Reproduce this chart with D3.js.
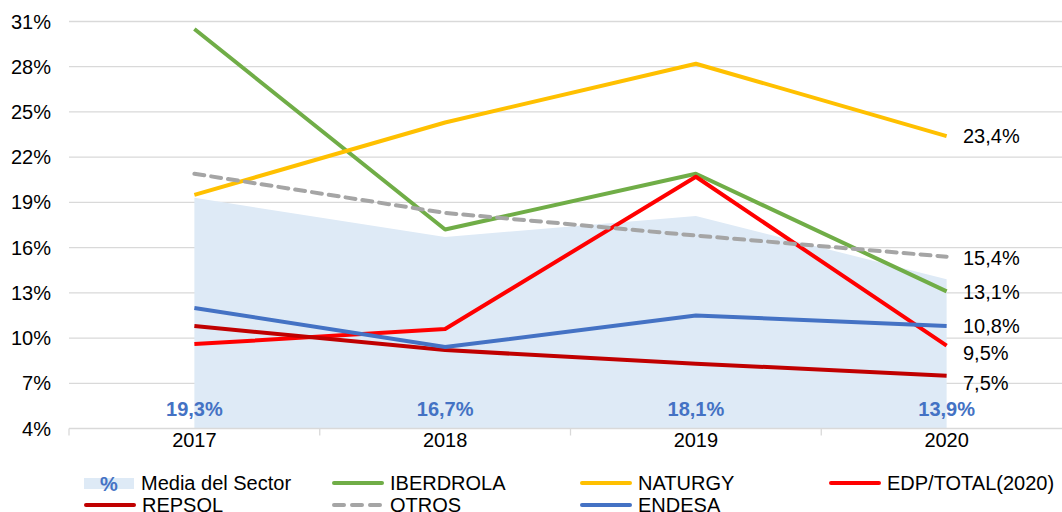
<!DOCTYPE html>
<html>
<head>
<meta charset="utf-8">
<script src="https://cdn.jsdelivr.net/npm/d3@7"></script>
<style>
  body { margin: 0; background: #fff; }
  svg { display: block; font-family: "Liberation Sans", Arial, sans-serif; }
</style>
</head>
<body>
<svg id="chart" width="1062" height="512"></svg>
<script>
var years = ["2017", "2018", "2019", "2020"];
var yTicks = [4, 7, 10, 13, 16, 19, 22, 25, 28, 31];

var media = [19.3, 16.7, 18.1, 13.9];
var iberdrola = [30.5, 17.2, 20.9, 13.1];
var naturgy = [19.5, 24.3, 28.2, 23.4];
var edp = [9.6, 10.6, 20.7, 9.5];
var repsol = [10.8, 9.2, 8.3, 7.5];
var otros = [20.9, 18.3, 16.8, 15.4];
var endesa = [12.0, 9.4, 11.5, 10.8];

var series = [
  { name: "IBERDROLA", values: iberdrola, color: "#70AD47" },
  { name: "NATURGY", values: naturgy, color: "#FFC000" },
  { name: "EDP/TOTAL(2020)", values: edp, color: "#FF0000" },
  { name: "REPSOL", values: repsol, color: "#C00000" },
  { name: "OTROS", values: otros, color: "#A5A5A5", dash: "10,7" },
  { name: "ENDESA", values: endesa, color: "#4472C4" }
];

var svg = d3.select("#chart");
var margin = { top: 21.5, left: 69, right: 1072, bottom: 428.5 };
var fs = 20;

var x = d3.scaleBand().domain(years).range([margin.left, margin.right]).padding(0);
var cx = d => x(d) + x.bandwidth() / 2;
var y = d3.scaleLinear().domain([4, 31]).range([margin.bottom, margin.top]);

var fmt = v => d3.format(".1f")(v).replace(".", ",") + "%";

// gridlines
svg.append("g").selectAll("line")
    .data(yTicks.slice(1)).enter().append("line")
    .attr("x1", margin.left).attr("x2", margin.right)
    .attr("y1", d => y(d)).attr("y2", d => y(d))
    .attr("stroke", "#D9D9D9").attr("stroke-width", 1.3);

// y axis labels
svg.append("g").selectAll("text")
    .data(yTicks).enter().append("text")
    .attr("x", 51).attr("y", d => y(d)).attr("dy", "0.35em")
    .attr("text-anchor", "end").attr("font-size", fs).attr("fill", "#000")
    .text(d => d + "%");

// area: media del sector
var area = d3.area().x((d, i) => cx(years[i])).y0(y(4)).y1(d => y(d));
svg.append("path").attr("d", area(media)).attr("fill", "#DEEAF6");

// x axis line + ticks
svg.append("line")
    .attr("x1", margin.left).attr("x2", margin.right)
    .attr("y1", y(4)).attr("y2", y(4))
    .attr("stroke", "#D9D9D9").attr("stroke-width", 1.3);
svg.append("g").selectAll("line")
    .data(years.concat(["end"])).enter().append("line")
    .attr("x1", (d, i) => i < years.length ? x(d) : margin.right)
    .attr("x2", (d, i) => i < years.length ? x(d) : margin.right)
    .attr("y1", y(4)).attr("y2", y(4) + 7)
    .attr("stroke", "#D9D9D9").attr("stroke-width", 1.3);
svg.append("g").selectAll("text")
    .data(years).enter().append("text")
    .attr("x", d => cx(d)).attr("y", 440).attr("dy", "0.35em")
    .attr("text-anchor", "middle").attr("font-size", fs).attr("fill", "#000")
    .text(d => d);

// media labels
svg.append("g").selectAll("text")
    .data(media).enter().append("text")
    .attr("x", (d, i) => cx(years[i])).attr("y", 409).attr("dy", "0.35em")
    .attr("text-anchor", "middle").attr("font-size", fs).attr("font-weight", "bold")
    .attr("fill", "#4472C4")
    .text(d => fmt(d));

// lines
var line = d3.line().x((d, i) => cx(years[i])).y(d => y(d));
svg.append("g").selectAll("path")
    .data(series).enter().append("path")
    .attr("d", d => line(d.values))
    .attr("fill", "none")
    .attr("stroke", d => d.color)
    .attr("stroke-width", 4)
    .attr("stroke-linejoin", "round")
    .attr("stroke-linecap", d => d.dash ? "round" : "butt")
    .attr("stroke-dasharray", d => d.dash || null);

// end labels (nudged where they crowd)
var nudge = { "EDP/TOTAL(2020)": 7, "REPSOL": 7, "OTROS": 1, "IBERDROLA": 1 };
svg.append("g").selectAll("text")
    .data(series).enter().append("text")
    .attr("x", 963)
    .attr("y", d => y(d.values[3]) + (nudge[d.name] || 0))
    .attr("dy", "0.35em")
    .attr("font-size", fs).attr("fill", "#000")
    .text(d => fmt(d.values[3]));

// legend
var legendItems = [{ name: "Media del Sector", area: true }].concat(series.slice(0, 3), series.slice(3));
var legendPos = [[84, 483], [332, 483], [580, 483], [829, 483], [84, 505], [332, 505], [580, 505]];
var lg = svg.append("g").selectAll("g")
    .data(legendItems).enter().append("g")
    .attr("transform", (d, i) => "translate(" + legendPos[i][0] + "," + legendPos[i][1] + ")");
lg.each(function(d) {
  var g = d3.select(this);
  if (d.area) {
    g.append("rect").attr("x", 0).attr("y", -5).attr("width", 50).attr("height", 11).attr("fill", "#DEEAF6");
    g.append("text").attr("x", 25).attr("y", 1).attr("dy", "0.35em")
        .attr("text-anchor", "middle").attr("font-size", fs).attr("font-weight", "bold")
        .attr("fill", "#4472C4").text("%");
  } else {
    g.append("line").attr("x1", 2).attr("x2", d.dash ? 48 : 50).attr("y1", 0).attr("y2", 0)
        .attr("stroke", d.color).attr("stroke-width", 4)
        .attr("stroke-linecap", "round")
        .attr("stroke-dasharray", d.dash ? "10,8" : null);
  }
  g.append("text").attr("x", d.area ? 57 : 58).attr("y", 0).attr("dy", "0.35em")
      .attr("font-size", fs).attr("fill", "#000").text(d.name);
});
</script>
</body>
</html>
